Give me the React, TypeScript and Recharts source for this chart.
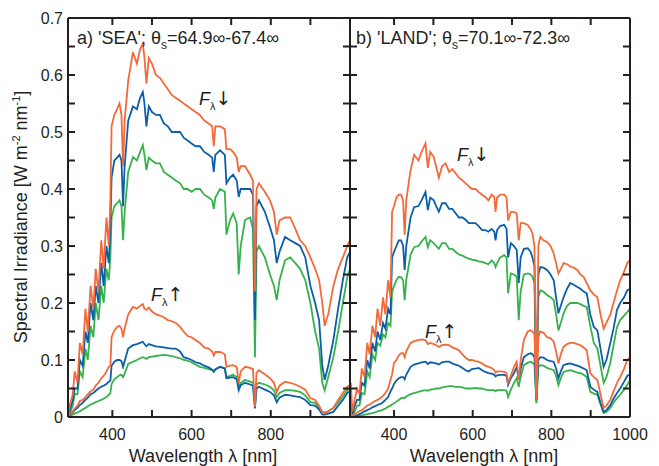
import React from 'react';
import { LineChart, Line, XAxis, YAxis, ReferenceLine } from 'recharts';

// ---------- Panel a) SEA ----------
const seaWavelength = [288, 292, 300, 305, 312, 318, 325, 332, 338, 345, 352, 358, 365, 372, 378, 385, 391, 395, 398, 405, 412, 418, 423, 427, 431, 440, 452, 462, 470, 477, 481, 486, 492, 500, 510, 520, 530, 540, 550, 560, 571, 580, 590, 600, 610, 621, 632, 643, 652, 656, 660, 672, 684, 688, 697, 705, 714, 719, 724, 735, 748, 755, 760, 764, 770, 785, 798, 808, 815, 822, 836, 849, 862, 874, 887, 900, 912, 922, 930, 936, 945, 958, 970, 982, 993, 1000];
const seaDownOrange = [0.0, 0.02, 0.04, 0.08, 0.06, 0.13, 0.11, 0.19, 0.15, 0.23, 0.19, 0.26, 0.22, 0.31, 0.26, 0.35, 0.30, 0.38, 0.51, 0.53, 0.54, 0.55, 0.53, 0.44, 0.52, 0.59, 0.64, 0.62, 0.645, 0.655, 0.63, 0.585, 0.63, 0.62, 0.60, 0.595, 0.585, 0.575, 0.565, 0.56, 0.555, 0.55, 0.545, 0.54, 0.535, 0.53, 0.52, 0.515, 0.51, 0.475, 0.51, 0.51, 0.505, 0.47, 0.47, 0.465, 0.455, 0.43, 0.44, 0.44, 0.425, 0.415, 0.22, 0.40, 0.41, 0.395, 0.38, 0.36, 0.32, 0.345, 0.35, 0.35, 0.33, 0.31, 0.30, 0.28, 0.26, 0.24, 0.20, 0.16, 0.18, 0.23, 0.26, 0.28, 0.30, 0.31];
const seaDownBlue = [0.0, 0.01, 0.03, 0.05, 0.05, 0.10, 0.09, 0.15, 0.13, 0.20, 0.17, 0.23, 0.20, 0.27, 0.23, 0.30, 0.27, 0.33, 0.42, 0.45, 0.455, 0.46, 0.45, 0.37, 0.44, 0.52, 0.545, 0.54, 0.56, 0.57, 0.55, 0.51, 0.545, 0.535, 0.53, 0.53, 0.515, 0.51, 0.50, 0.50, 0.50, 0.49, 0.485, 0.48, 0.475, 0.475, 0.465, 0.46, 0.455, 0.43, 0.46, 0.468, 0.46, 0.41, 0.42, 0.425, 0.415, 0.386, 0.40, 0.40, 0.40, 0.39, 0.17, 0.37, 0.38, 0.36, 0.333, 0.31, 0.27, 0.29, 0.316, 0.31, 0.305, 0.30, 0.28, 0.23, 0.20, 0.17, 0.09, 0.065, 0.09, 0.135, 0.19, 0.24, 0.28, 0.29];
const seaDownGreen = [0.0, 0.005, 0.02, 0.04, 0.04, 0.08, 0.07, 0.12, 0.10, 0.16, 0.14, 0.20, 0.17, 0.23, 0.20, 0.26, 0.24, 0.28, 0.35, 0.37, 0.375, 0.38, 0.37, 0.31, 0.36, 0.43, 0.456, 0.45, 0.465, 0.477, 0.46, 0.433, 0.455, 0.45, 0.445, 0.445, 0.43, 0.425, 0.42, 0.415, 0.41, 0.40, 0.40, 0.395, 0.40, 0.40, 0.39, 0.385, 0.38, 0.365, 0.385, 0.40, 0.395, 0.32, 0.345, 0.357, 0.34, 0.25, 0.30, 0.346, 0.35, 0.33, 0.105, 0.29, 0.30, 0.28, 0.25, 0.23, 0.205, 0.24, 0.275, 0.28, 0.27, 0.26, 0.24, 0.20, 0.15, 0.12, 0.06, 0.047, 0.07, 0.105, 0.15, 0.20, 0.245, 0.26];
const seaUpOrange = [0.0, 0.005, 0.01, 0.015, 0.02, 0.028, 0.03, 0.035, 0.04, 0.045, 0.048, 0.055, 0.06, 0.068, 0.072, 0.08, 0.088, 0.09, 0.14, 0.152, 0.158, 0.16, 0.155, 0.14, 0.155, 0.18, 0.193, 0.19, 0.195, 0.198, 0.19, 0.188, 0.192, 0.185, 0.18, 0.178, 0.175, 0.17, 0.168, 0.165, 0.158, 0.15, 0.142, 0.14, 0.135, 0.13, 0.122, 0.12, 0.115, 0.108, 0.114, 0.114, 0.11, 0.088, 0.09, 0.091, 0.088, 0.059, 0.08, 0.088, 0.086, 0.084, 0.018, 0.078, 0.082, 0.075, 0.068, 0.06, 0.044, 0.055, 0.062, 0.06, 0.057, 0.053, 0.048, 0.033, 0.03, 0.02, 0.008, 0.007, 0.01, 0.016, 0.03, 0.042, 0.053, 0.056];
const seaUpBlue = [0.0, 0.004, 0.008, 0.012, 0.016, 0.021, 0.025, 0.03, 0.034, 0.04, 0.042, 0.046, 0.05, 0.053, 0.055, 0.058, 0.062, 0.064, 0.09, 0.097, 0.1, 0.1, 0.098, 0.088, 0.098, 0.12, 0.126, 0.128, 0.13, 0.132, 0.128, 0.124, 0.128, 0.126, 0.124, 0.123, 0.122, 0.121, 0.12, 0.12, 0.115, 0.105, 0.103, 0.1, 0.096, 0.094, 0.09, 0.087, 0.083, 0.08, 0.084, 0.088, 0.085, 0.068, 0.069, 0.07, 0.066, 0.047, 0.056, 0.06, 0.057, 0.055, 0.015, 0.05, 0.053, 0.048, 0.044, 0.038, 0.026, 0.034, 0.039, 0.038, 0.036, 0.035, 0.03, 0.021, 0.02, 0.013, 0.004, 0.004, 0.006, 0.009, 0.02, 0.03, 0.042, 0.045];
const seaUpGreen = [0.0, 0.002, 0.004, 0.006, 0.008, 0.01, 0.013, 0.016, 0.019, 0.022, 0.024, 0.026, 0.028, 0.03, 0.032, 0.035, 0.039, 0.042, 0.058, 0.066, 0.07, 0.073, 0.074, 0.07, 0.076, 0.093, 0.097, 0.1, 0.103, 0.105, 0.104, 0.102, 0.105, 0.106, 0.107, 0.108, 0.109, 0.108, 0.107, 0.105, 0.103, 0.1, 0.099, 0.096, 0.092, 0.088, 0.086, 0.084, 0.082, 0.079, 0.083, 0.088, 0.086, 0.07, 0.072, 0.074, 0.07, 0.053, 0.06, 0.065, 0.062, 0.06, 0.018, 0.057, 0.06, 0.057, 0.053, 0.047, 0.035, 0.042, 0.047, 0.047, 0.046, 0.044, 0.038, 0.026, 0.025, 0.017, 0.009, 0.008, 0.01, 0.016, 0.026, 0.036, 0.047, 0.05];

// ---------- Panel b) LAND ----------
const landWavelength = [290, 294, 300, 306, 312, 318, 325, 332, 338, 345, 352, 358, 365, 372, 378, 385, 391, 395, 400, 406, 412, 418, 423, 427, 431, 442, 451, 462, 470, 480, 486, 492, 501, 507, 514, 522, 531, 540, 548, 556, 565, 574, 582, 590, 598, 607, 615, 624, 632, 640, 648, 655, 658, 662, 670, 680, 686, 690, 697, 705, 712, 717, 722, 730, 740, 747, 752, 757, 762, 767, 772, 780, 789, 798, 806, 812, 818, 824, 831, 840, 848, 857, 866, 874, 882, 890, 899, 908, 917, 925, 933, 940, 950, 958, 967, 975, 985, 993, 1000];
const landDownOrange = [0.06, 0.01, 0.03, 0.05, 0.04, 0.085, 0.07, 0.13, 0.11, 0.16, 0.14, 0.19, 0.16, 0.21, 0.18, 0.24, 0.21, 0.36, 0.37, 0.385, 0.39, 0.39, 0.38, 0.32, 0.38, 0.433, 0.46, 0.45, 0.465, 0.48, 0.437, 0.465, 0.456, 0.44, 0.42, 0.44, 0.445, 0.43, 0.435, 0.428, 0.42, 0.415, 0.41, 0.405, 0.40, 0.40, 0.395, 0.39, 0.386, 0.38, 0.39, 0.386, 0.36, 0.385, 0.39, 0.39, 0.385, 0.345, 0.36, 0.36, 0.357, 0.31, 0.34, 0.34, 0.337, 0.33, 0.322, 0.30, 0.04, 0.30, 0.316, 0.31, 0.307, 0.30, 0.287, 0.27, 0.252, 0.26, 0.27, 0.268, 0.264, 0.262, 0.258, 0.25, 0.246, 0.235, 0.222, 0.215, 0.21, 0.18, 0.155, 0.165, 0.18, 0.20, 0.222, 0.24, 0.255, 0.27, 0.275];
const landDownBlue = [0.03, 0.005, 0.02, 0.03, 0.03, 0.06, 0.055, 0.10, 0.085, 0.13, 0.115, 0.15, 0.135, 0.165, 0.155, 0.19, 0.18, 0.28, 0.29, 0.30, 0.31, 0.31, 0.30, 0.258, 0.30, 0.35, 0.368, 0.37, 0.38, 0.395, 0.363, 0.385, 0.38, 0.37, 0.36, 0.375, 0.375, 0.365, 0.365, 0.358, 0.35, 0.35, 0.346, 0.34, 0.34, 0.34, 0.335, 0.328, 0.328, 0.325, 0.33, 0.325, 0.31, 0.328, 0.335, 0.337, 0.33, 0.28, 0.305, 0.30, 0.293, 0.235, 0.28, 0.295, 0.296, 0.29, 0.28, 0.265, 0.03, 0.25, 0.263, 0.262, 0.258, 0.25, 0.24, 0.21, 0.182, 0.195, 0.21, 0.225, 0.235, 0.232, 0.228, 0.225, 0.22, 0.217, 0.18, 0.158, 0.152, 0.12, 0.088, 0.1, 0.13, 0.155, 0.188, 0.20, 0.21, 0.222, 0.225];
const landDownGreen = [0.02, 0.003, 0.01, 0.02, 0.02, 0.042, 0.04, 0.08, 0.07, 0.11, 0.10, 0.13, 0.125, 0.145, 0.14, 0.165, 0.16, 0.22, 0.23, 0.24, 0.246, 0.245, 0.24, 0.205, 0.24, 0.285, 0.298, 0.30, 0.308, 0.316, 0.298, 0.31, 0.305, 0.30, 0.295, 0.305, 0.305, 0.295, 0.295, 0.29, 0.285, 0.283, 0.28, 0.278, 0.276, 0.275, 0.273, 0.272, 0.27, 0.268, 0.275, 0.27, 0.263, 0.27, 0.28, 0.284, 0.28, 0.217, 0.252, 0.25, 0.246, 0.17, 0.22, 0.25, 0.252, 0.25, 0.246, 0.235, 0.025, 0.21, 0.222, 0.22, 0.214, 0.21, 0.205, 0.18, 0.152, 0.165, 0.182, 0.195, 0.20, 0.2, 0.2, 0.198, 0.195, 0.193, 0.16, 0.13, 0.12, 0.09, 0.06, 0.07, 0.095, 0.125, 0.158, 0.17, 0.178, 0.184, 0.19];
const landUpOrange = [0.01, 0.0, 0.005, 0.008, 0.01, 0.012, 0.016, 0.02, 0.022, 0.025, 0.028, 0.03, 0.033, 0.037, 0.042, 0.05, 0.065, 0.075, 0.095, 0.1, 0.108, 0.112, 0.112, 0.105, 0.115, 0.13, 0.133, 0.135, 0.136, 0.135, 0.128, 0.13, 0.128, 0.126, 0.123, 0.126, 0.127, 0.126, 0.122, 0.12, 0.117, 0.11, 0.104, 0.1, 0.1, 0.098, 0.097, 0.094, 0.09, 0.088, 0.086, 0.082, 0.078, 0.08, 0.08, 0.079, 0.077, 0.06, 0.072, 0.088, 0.097, 0.065, 0.10, 0.135, 0.15, 0.152, 0.15, 0.145, 0.03, 0.14, 0.15, 0.148, 0.14, 0.138, 0.132, 0.115, 0.094, 0.11, 0.123, 0.128, 0.13, 0.13, 0.128, 0.126, 0.122, 0.117, 0.077, 0.07, 0.065, 0.04, 0.016, 0.02, 0.03, 0.045, 0.06, 0.07, 0.085, 0.1, 0.105];
const landUpBlue = [0.005, 0.0, 0.002, 0.003, 0.005, 0.007, 0.01, 0.012, 0.014, 0.017, 0.019, 0.021, 0.023, 0.026, 0.03, 0.035, 0.045, 0.05, 0.058, 0.064, 0.068, 0.07, 0.07, 0.066, 0.074, 0.088, 0.092, 0.094, 0.096, 0.097, 0.093, 0.096, 0.095, 0.094, 0.092, 0.096, 0.097, 0.097, 0.094, 0.092, 0.09, 0.086, 0.082, 0.08, 0.084, 0.085, 0.086, 0.082, 0.079, 0.077, 0.076, 0.074, 0.071, 0.073, 0.074, 0.074, 0.072, 0.056, 0.068, 0.077, 0.088, 0.065, 0.085, 0.105, 0.11, 0.112, 0.11, 0.105, 0.03, 0.1, 0.105, 0.104, 0.1, 0.098, 0.097, 0.085, 0.068, 0.08, 0.091, 0.093, 0.094, 0.092, 0.09, 0.088, 0.085, 0.082, 0.053, 0.048, 0.044, 0.025, 0.009, 0.012, 0.021, 0.032, 0.042, 0.05, 0.062, 0.072, 0.075];
const landUpGreen = [0.003, 0.0, 0.0, 0.001, 0.002, 0.003, 0.004, 0.005, 0.006, 0.007, 0.008, 0.01, 0.011, 0.013, 0.015, 0.018, 0.02, 0.022, 0.024, 0.027, 0.03, 0.033, 0.034, 0.033, 0.036, 0.04, 0.042, 0.044, 0.046, 0.047, 0.046, 0.048, 0.049, 0.05, 0.05, 0.052, 0.053, 0.054, 0.054, 0.053, 0.053, 0.052, 0.05, 0.05, 0.05, 0.051, 0.05, 0.05, 0.048, 0.047, 0.047, 0.047, 0.045, 0.047, 0.047, 0.047, 0.046, 0.035, 0.048, 0.06, 0.068, 0.053, 0.07, 0.091, 0.095, 0.097, 0.095, 0.092, 0.024, 0.088, 0.091, 0.09, 0.086, 0.084, 0.082, 0.072, 0.056, 0.068, 0.079, 0.081, 0.082, 0.08, 0.078, 0.077, 0.074, 0.07, 0.044, 0.041, 0.039, 0.022, 0.007, 0.009, 0.016, 0.025, 0.033, 0.039, 0.048, 0.056, 0.065];

const xTicks = [400, 500, 600, 700, 800, 900, 1000];
const xLabelled = [400, 600, 800, 1000];
const yTicks = [0, 0.05, 0.1, 0.15, 0.2, 0.25, 0.3, 0.35, 0.4, 0.45, 0.5, 0.55, 0.6, 0.65, 0.7];

const X_DOMAIN: [number, number] = [288, 1000];
const Y_DOMAIN: [number, number] = [0, 0.7];
const COLORS = { orange: '#f4693a', blue: '#0b5ea8', green: '#36b24b' };
const INK = '#231f20';
const FONT = '"Liberation Sans", Arial, Helvetica, sans-serif';

// plot boxes (derived from the chart margins below)
const PLOT_TOP = 18;
const PLOT_BOTTOM = 417;
const PANELS = [
  { left: 68, right: 350, ticks: xTicks.slice(0, 6) },
  { left: 350, right: 630, ticks: xTicks },
];
const TICK_PX = 7;

function buildRows(w: number[], s: number[][]) {
  return w.map((x, i) => ({
    w: x,
    dO: s[0][i], dB: s[1][i], dG: s[2][i],
    uO: s[3][i], uB: s[4][i], uG: s[5][i],
  }));
}

const seaData = buildRows(seaWavelength, [seaDownOrange, seaDownBlue, seaDownGreen, seaUpOrange, seaUpBlue, seaUpGreen]);
const landData = buildRows(landWavelength, [landDownOrange, landDownBlue, landDownGreen, landUpOrange, landUpBlue, landUpGreen]);

const fmtX = (v: number) => (xLabelled.includes(v) ? String(v) : '');
const fmtY = (v: number) => {
  const k = Math.round(v * 100);
  if (k % 10 !== 0) return '';
  return k === 0 ? '0' : (k / 100).toFixed(1);
};

const BottomLabel = (p: any) => {
  const label = fmtX(p.payload.value);
  return label ? (
    <text x={p.x} y={p.y + 23} textAnchor="middle" fontSize={16} fill={INK} fontFamily={FONT}>{label}</text>
  ) : <g />;
};
const LeftLabel = (p: any) => {
  const label = fmtY(p.payload.value);
  return label ? (
    <text x={p.x - 5} y={p.y + 6} textAnchor="end" fontSize={16} fill={INK} fontFamily={FONT}>{label}</text>
  ) : <g />;
};

const axisLineStyle = { stroke: INK, strokeWidth: 2 };

function Panel({ data, margin, showYLabels, ticks }: { data: any[]; margin: any; showYLabels: boolean; ticks: number[] }) {
  const frameProps = { xAxisId: 'b', yAxisId: 'l', stroke: INK, strokeWidth: 2, ifOverflow: 'visible' as const };
  return (
    <LineChart width={659} height={466} data={data} margin={margin}>
      <XAxis
        xAxisId="b" dataKey="w" type="number" domain={X_DOMAIN} allowDataOverflow
        ticks={ticks} interval={0} tickSize={0} tickMargin={0} tickLine={false}
        height={1} stroke={INK} strokeWidth={2} axisLine={axisLineStyle} tick={BottomLabel}
      />
      <YAxis
        yAxisId="l" type="number" domain={Y_DOMAIN} allowDataOverflow ticks={yTicks} interval={0}
        tickSize={0} tickMargin={0} tickLine={false} width={1}
        stroke={INK} strokeWidth={2} axisLine={axisLineStyle} tick={showYLabels ? LeftLabel : false}
      />
      {(['G', 'B', 'O'] as const).map((c) => {
        const color = c === 'O' ? COLORS.orange : c === 'B' ? COLORS.blue : COLORS.green;
        return [
          <Line key={'d' + c} xAxisId="b" yAxisId="l" dataKey={'d' + c} type="linear" stroke={color}
            strokeWidth={1.8} dot={false} activeDot={false} isAnimationActive={false} />,
          <Line key={'u' + c} xAxisId="b" yAxisId="l" dataKey={'u' + c} type="linear" stroke={color}
            strokeWidth={1.8} dot={false} activeDot={false} isAnimationActive={false} />,
        ];
      })}
      <ReferenceLine {...frameProps} x={X_DOMAIN[0]} />
      <ReferenceLine {...frameProps} x={X_DOMAIN[1]} />
      <ReferenceLine {...frameProps} y={Y_DOMAIN[0]} />
      <ReferenceLine {...frameProps} y={Y_DOMAIN[1]} />
    </LineChart>
  );
}

// inward tick marks for the frame, positioned by the same linear mapping as the axes
function FrameTicks() {
  const yPx = (v: number) => PLOT_BOTTOM - ((v - Y_DOMAIN[0]) / (Y_DOMAIN[1] - Y_DOMAIN[0])) * (PLOT_BOTTOM - PLOT_TOP);
  const out: React.ReactNode[] = [];
  PANELS.forEach((p, pi) => {
    const xPx = (v: number) => p.left + ((v - X_DOMAIN[0]) / (X_DOMAIN[1] - X_DOMAIN[0])) * (p.right - p.left);
    p.ticks.forEach((t) => {
      const x = xPx(t);
      out.push(<line key={`b${pi}${t}`} x1={x} x2={x} y1={PLOT_BOTTOM} y2={PLOT_BOTTOM - TICK_PX} stroke={INK} strokeWidth={2} />);
      out.push(<line key={`t${pi}${t}`} x1={x} x2={x} y1={PLOT_TOP} y2={PLOT_TOP + TICK_PX} stroke={INK} strokeWidth={2} />);
    });
    yTicks.forEach((t) => {
      const y = yPx(t);
      out.push(<line key={`l${pi}${t}`} x1={p.left} x2={p.left + TICK_PX} y1={y} y2={y} stroke={INK} strokeWidth={2} />);
      out.push(<line key={`r${pi}${t}`} x1={p.right} x2={p.right - TICK_PX} y1={y} y2={y} stroke={INK} strokeWidth={2} />);
    });
  });
  return <g>{out}</g>;
}

function Flux({ x, y, arrow }: { x: number; y: number; arrow: string }) {
  return (
    <text x={x} y={y} fontSize={18} fill={INK} fontFamily={FONT}>
      <tspan fontStyle="italic">F</tspan>
      <tspan fontSize={11} dy={5}>λ</tspan>
      <tspan dy={-5} fontFamily='"DejaVu Sans", sans-serif' fontSize={19}>{arrow}</tspan>
    </text>
  );
}

export default function App() {
  return (
    <div style={{ position: 'absolute', left: 0, top: 0, width: 659, height: 466, background: '#fff' }}>
      <div style={{ position: 'absolute', left: 0, top: 0 }}>
        <Panel data={seaData} margin={{ top: 18, right: 309, bottom: 48, left: 67 }} showYLabels ticks={PANELS[0].ticks} />
      </div>
      <div style={{ position: 'absolute', left: 0, top: 0 }}>
        <Panel data={landData} margin={{ top: 18, right: 29, bottom: 48, left: 349 }} showYLabels={false} ticks={PANELS[1].ticks} />
      </div>
      <svg width={659} height={466} style={{ position: 'absolute', left: 0, top: 0, pointerEvents: 'none' }}>
        <FrameTicks />
        <text x={77} y={44} fontSize={18} fill={INK} fontFamily={FONT}>
          a) 'SEA'; θ<tspan fontSize={12} dy={5}>s</tspan><tspan dy={-5}>=64.9∞-67.4∞</tspan>
        </text>
        <text x={356} y={44} fontSize={18} fill={INK} fontFamily={FONT}>
          b) 'LAND'; θ<tspan fontSize={12} dy={5}>s</tspan><tspan dy={-5}>=70.1∞-72.3∞</tspan>
        </text>
        <Flux x={199} y={105} arrow="↓" />
        <Flux x={151} y={301} arrow="↑" />
        <Flux x={457} y={161} arrow="↓" />
        <Flux x={425} y={338} arrow="↑" />
        <text x={203} y={462} fontSize={18} fill={INK} fontFamily={FONT} textAnchor="middle">Wavelength λ [nm]</text>
        <text x={484} y={462} fontSize={18} fill={INK} fontFamily={FONT} textAnchor="middle">Wavelength λ [nm]</text>
        <text transform="translate(27,217) rotate(-90)" fontSize={18} fill={INK} fontFamily={FONT} textAnchor="middle">
          Spectral Irradiance [W m<tspan fontSize={11} dy={-7}>-2</tspan><tspan dy={7}> nm</tspan><tspan fontSize={11} dy={-7}>-1</tspan><tspan dy={7}>]</tspan>
        </text>
      </svg>
    </div>
  );
}
